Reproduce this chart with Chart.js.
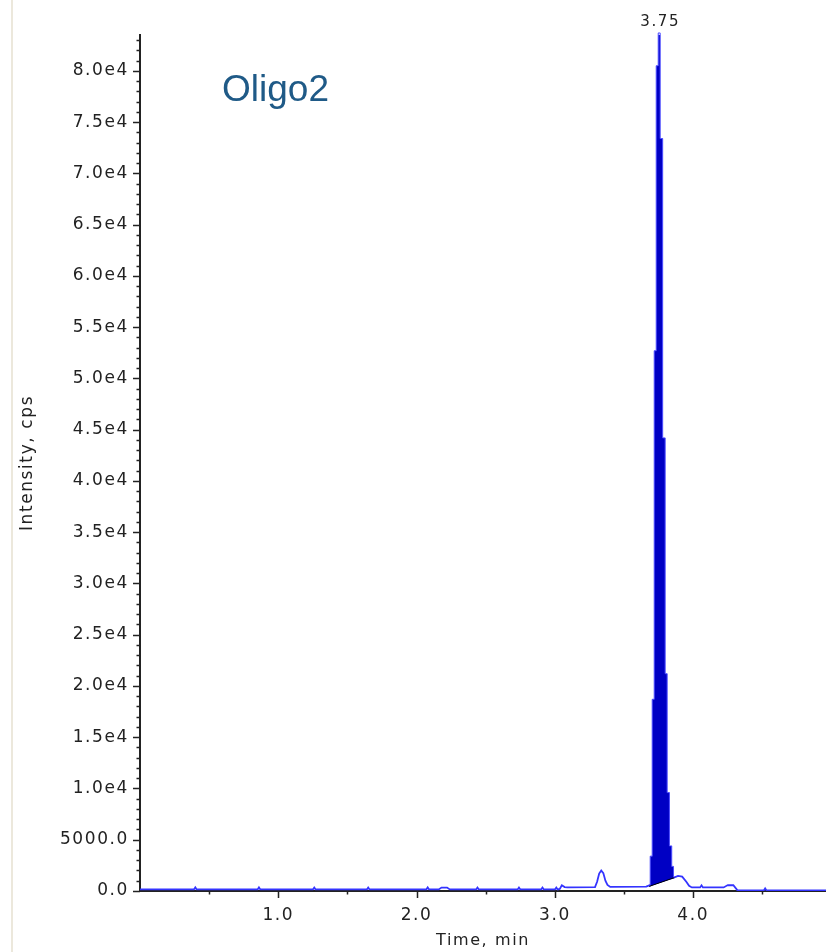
<!DOCTYPE html>
<html>
<head>
<meta charset="utf-8">
<script src="https://cdn.jsdelivr.net/npm/chart.js@4.4.0/dist/chart.umd.min.js"></script>
<style>
  body { margin: 0; background: #fff; }
  #wrap { position: relative; width: 826px; height: 952px; }
  #edge { position: absolute; left: 11px; top: 0; width: 2px; height: 952px; background: #ece8dc; }
  canvas { position: absolute; left: 0; top: 0; }
</style>
</head>
<body>
<div id="wrap">
  <div id="edge"></div>
  <canvas id="xic" width="826" height="952"></canvas>
</div>
<script>
// full ion trace (time in min, intensity in cps)
const traceTime = [0.00, 0.39, 0.40, 0.41, 0.85, 0.86, 0.87, 1.25, 1.26, 1.27, 1.64, 1.65, 1.66,
  2.07, 2.08, 2.09, 2.16, 2.18, 2.22, 2.24, 2.43, 2.44, 2.45, 2.73, 2.74, 2.75, 2.90, 2.91, 2.92,
  3.00, 3.01, 3.02, 3.035, 3.05, 3.07, 3.09, 3.29, 3.305, 3.32, 3.335, 3.35, 3.365, 3.38, 3.40,
  3.66, 3.70, 3.76, 3.82, 3.86, 3.89, 3.92, 3.95, 3.97, 3.99, 4.05, 4.06, 4.07, 4.22, 4.25, 4.29,
  4.32, 4.51, 4.52, 4.53, 4.96];
const traceIntensity = [150, 150, 350, 150, 150, 350, 150, 150, 330, 150, 150, 330, 150,
  150, 350, 150, 150, 330, 330, 150, 150, 330, 150, 150, 330, 150, 150, 330, 150,
  150, 330, 150, 200, 550, 380, 360, 380, 900, 1700, 2000, 1750, 1000, 600, 400,
  420, 650, 900, 1150, 1300, 1480, 1400, 900, 500, 350, 350, 550, 350, 350, 580, 560,
  60, 60, 260, 60, 60];

// integrated peak, apex at 3.75 min
const peakTime = [3.682, 3.696, 3.711, 3.725, 3.740, 3.754, 3.768, 3.790, 3.804, 3.819, 3.837, 3.852, 3.863];
const peakIntensity = [450, 3400, 18700, 52700, 80500, 83700, 73400, 44200, 21200, 9600, 4400, 2400, 1300];

// integration baseline under the peak
const baseTime = [3.682, 3.863];
const baseIntensity = [450, 1300];

// axis ticks: labelled values and the minor step between them
const yMajorTicks = [0, 5000, 10000, 15000, 20000, 25000, 30000, 35000, 40000,
  45000, 50000, 55000, 60000, 65000, 70000, 75000, 80000];
const yMinorStep = 1000;
const xMajorTicks = [1.0, 2.0, 3.0, 4.0];
const xMinorStep = 0.5;
const yMax = 83500;
const xMax = 4.96;
const sampleName = 'Oligo2';

const toPoints = (xs, ys) => xs.map((x, i) => ({ x: x, y: ys[i] }));
const isMajor = (list, v) => list.some(m => Math.abs(m - v) < 1e-6);

function stepTicks(step, max) {
  const out = [];
  for (let i = 0; i * step <= max + 1e-9; i++) out.push({ value: +(i * step).toFixed(4) });
  return out;
}

const apexIndex = peakIntensity.indexOf(Math.max(...peakIntensity));

const TEXT = '#222';
const FAMILY = "'DejaVu Sans', Verdana, sans-serif";
const SPACING = '1.6px';
const tickFont = { family: FAMILY, size: 17 };

const axisMarks = {
  id: 'axisMarks',
  beforeUpdate(chart) { chart.ctx.letterSpacing = SPACING; },
  beforeDraw(chart) { chart.ctx.letterSpacing = SPACING; },
  afterDraw(chart) {
    const ctx = chart.ctx;
    const xs = chart.scales.x, ys = chart.scales.y;
    const area = chart.chartArea;
    ctx.save();
    ctx.strokeStyle = TEXT;
    ctx.lineWidth = 1.5;
    ctx.beginPath();
    ys.ticks.forEach(t => {
      const len = isMajor(yMajorTicks, t.value) ? 7 : 3.5;
      const py = Math.round(ys.getPixelForValue(t.value)) + 0.5;
      ctx.moveTo(area.left - len, py);
      ctx.lineTo(area.left, py);
    });
    xs.ticks.forEach(t => {
      if (t.value === 0) return;
      const len = isMajor(xMajorTicks, t.value) ? 7 : 3.5;
      const px = Math.round(xs.getPixelForValue(t.value)) + 0.5;
      ctx.moveTo(px, area.bottom);
      ctx.lineTo(px, area.bottom + len);
    });
    ctx.stroke();

    // retention time above the apex
    const ax = xs.getPixelForValue(peakTime[apexIndex]);
    const ay = ys.getPixelForValue(peakIntensity[apexIndex]);
    ctx.fillStyle = TEXT;
    ctx.font = '15px ' + FAMILY;
    ctx.letterSpacing = SPACING;
    ctx.textAlign = 'center';
    ctx.textBaseline = 'middle';
    ctx.fillText(peakTime[apexIndex].toFixed(2), ax + 1, ay - 11);

    ctx.letterSpacing = '0px';
    ctx.fillStyle = '#1f5a87';
    ctx.font = "37px 'Liberation Sans', Arial, sans-serif";
    ctx.textAlign = 'left';
    ctx.textBaseline = 'alphabetic';
    ctx.fillText(sampleName, 222, 101);
    ctx.restore();
  }
};

new Chart(document.getElementById('xic'), {
  type: 'line',
  data: {
    datasets: [
      {
        label: 'baseline',
        data: toPoints(baseTime, baseIntensity),
        borderColor: '#000',
        borderWidth: 1,
        pointRadius: 0,
        fill: false,
        order: 0
      },
      {
        label: 'peak',
        data: toPoints(peakTime, peakIntensity),
        borderColor: '#4a4aff',
        borderWidth: 1,
        backgroundColor: '#0000c4',
        stepped: 'middle',
        pointRadius: 0,
        fill: { target: 0 },
        clip: false,
        order: 1
      },
      {
        label: 'XIC',
        data: toPoints(traceTime, traceIntensity),
        borderColor: '#3434ff',
        borderWidth: 1.8,
        pointRadius: 0,
        fill: false,
        tension: 0,
        order: 2
      }
    ]
  },
  options: {
    responsive: false,
    animation: false,
    devicePixelRatio: 1,
    layout: { padding: { left: 12, top: 35, right: 0, bottom: 0 } },
    plugins: { legend: { display: false }, tooltip: { enabled: false } },
    scales: {
      x: {
        type: 'linear',
        min: 0,
        max: xMax,
        grid: { display: false, drawTicks: false, tickLength: 0 },
        border: { display: true, color: TEXT, width: 2 },
        afterBuildTicks: s => { s.ticks = stepTicks(xMinorStep, xMax); },
        ticks: {
          autoSkip: false,
          maxRotation: 0,
          padding: 14,
          color: TEXT,
          font: tickFont,
          callback: v => isMajor(xMajorTicks, v) ? v.toFixed(1) : ''
        },
        title: {
          display: true,
          text: 'Time, min',
          color: TEXT,
          font: { family: FAMILY, size: 16 },
          padding: { top: 0, bottom: 2 }
        },
        afterFit: s => { s.height = 61; s.paddingLeft = 0; s.paddingRight = 0; }
      },
      y: {
        type: 'linear',
        min: 0,
        max: yMax,
        grid: { display: false, drawTicks: false, tickLength: 0 },
        border: { display: true, color: TEXT, width: 2 },
        afterBuildTicks: s => { s.ticks = stepTicks(yMinorStep, yMax); },
        ticks: {
          autoSkip: false,
          padding: 11,
          color: TEXT,
          font: tickFont,
          callback: v => {
            if (!isMajor(yMajorTicks, v)) return '';
            return v >= 10000 ? (v / 10000).toFixed(1) + 'e4' : v.toFixed(1);
          }
        },
        title: {
          display: true,
          text: 'Intensity, cps',
          color: TEXT,
          font: { family: FAMILY, size: 17 },
          padding: { top: 5, bottom: 0 }
        },
        afterFit: s => { s.width = 128; s.paddingTop = 0; s.paddingBottom = 0; }
      }
    }
  },
  plugins: [axisMarks]
});
</script>
</body>
</html>
